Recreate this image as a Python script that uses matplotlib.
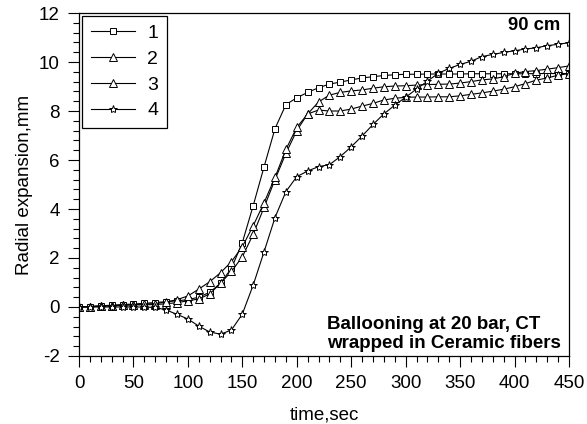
import matplotlib
matplotlib.use('Agg')
import matplotlib.pyplot as plt
from matplotlib.ticker import MultipleLocator

plt.rcParams['font.family'] = ['Liberation Sans', 'DejaVu Sans']
plt.rcParams['axes.unicode_minus'] = False

# time axis, sec
time = [0, 10, 20, 30, 40, 50, 60, 70, 80, 90,
        100, 110, 120, 130, 140, 150, 160, 170, 180, 190,
        200, 210, 220, 230, 240, 250, 260, 270, 280, 290,
        300, 310, 320, 330, 340, 350, 360, 370, 380, 390,
        400, 410, 420, 430, 440, 450]

# radial expansion, mm
s1 = [0.00, 0.02, 0.05, 0.07, 0.10, 0.12, 0.15, 0.18, 0.22, 0.25,
      0.30, 0.40, 0.60, 0.97, 1.58, 2.63, 4.14, 5.73, 7.28, 8.26,
      8.54, 8.76, 8.95, 9.10, 9.18, 9.27, 9.35, 9.40, 9.45, 9.48,
      9.50, 9.50, 9.51, 9.51, 9.51, 9.51, 9.52, 9.52, 9.52, 9.52,
      9.52, 9.52, 9.53, 9.53, 9.53, 9.53]
s2 = [0.00, 0.01, 0.03, 0.05, 0.07, 0.08, 0.09, 0.10, 0.13, 0.18,
      0.25, 0.33, 0.53, 0.97, 1.45, 2.05, 2.97, 4.07, 5.20, 6.27,
      7.20, 7.88, 8.37, 8.65, 8.76, 8.82, 8.86, 8.93, 8.99, 9.02,
      9.03, 9.06, 9.08, 9.09, 9.10, 9.14, 9.20, 9.27, 9.31, 9.40,
      9.54, 9.61, 9.65, 9.71, 9.77, 9.84]
s3 = [0.00, 0.02, 0.04, 0.06, 0.08, 0.10, 0.12, 0.14, 0.20, 0.30,
      0.45, 0.73, 1.03, 1.40, 1.85, 2.46, 3.32, 4.26, 5.29, 6.43,
      7.33, 7.88, 8.04, 8.00, 8.00, 8.08, 8.20, 8.31, 8.45, 8.52,
      8.56, 8.57, 8.57, 8.58, 8.58, 8.62, 8.68, 8.74, 8.81, 8.89,
      8.99, 9.12, 9.26, 9.35, 9.46, 9.53]
s4 = [0.00, 0.00, 0.00, 0.00, 0.00, 0.00, 0.00, -0.02, -0.12, -0.30,
      -0.49, -0.78, -1.02, -1.11, -0.94, -0.29, 0.90, 2.26, 3.65, 4.71,
      5.32, 5.55, 5.73, 5.81, 6.14, 6.54, 6.98, 7.45, 7.88, 8.24,
      8.56, 8.90, 9.22, 9.54, 9.74, 9.90, 10.03, 10.22, 10.31, 10.39,
      10.46, 10.53, 10.58, 10.67, 10.72, 10.79]

series = [('1', s1, 's', 5), ('2', s2, '^', 5.5), ('3', s3, '^', 5.5), ('4', s4, '*', 6)]

fig = plt.figure(figsize=(5.87, 4.24), dpi=100)
ax = fig.add_axes([0.1346, 0.1604, 0.8347, 0.8089])

for label, vals, mk, ms in series:
    ax.plot(time, vals, color='black', lw=0.8, marker=mk, markersize=ms,
            markerfacecolor='white', markeredgecolor='black', markeredgewidth=0.7,
            label=label)

ax.set_xlim(0, 450)
ax.set_ylim(-2, 12)
ax.xaxis.set_major_locator(MultipleLocator(50))
ax.xaxis.set_minor_locator(MultipleLocator(10))
ax.yaxis.set_major_locator(MultipleLocator(2))
ax.yaxis.set_minor_locator(MultipleLocator(0.4))
ax.tick_params(which='both', direction='out', top=False, right=False, labelsize=13.5, pad=6)
ax.tick_params(which='major', length=8, width=0.8)
ax.tick_params(which='minor', length=4.3, width=0.8)
for sp in ax.spines.values():
    sp.set_linewidth(0.9)

ax.set_xlabel('time,sec', fontsize=13.5, labelpad=10)
ax.set_ylabel('Radial expansion,mm', fontsize=13.5, labelpad=4)

leg = ax.legend(loc='upper left', bbox_to_anchor=(0.006, 0.992), borderaxespad=0,
                fontsize=14, frameon=True, fancybox=False, edgecolor='black',
                framealpha=1, handlelength=2.3, labelspacing=0.42, borderpad=0.45,
                handletextpad=0.6)
leg.get_frame().set_linewidth(0.9)

ax.text(0.9816, 0.965, '90 cm', transform=ax.transAxes, ha='right', va='center',
        fontsize=13.3, fontweight='bold')
ax.text(0.506, 0.064, 'Ballooning at 20 bar, CT\nwrapped in Ceramic fibers',
        transform=ax.transAxes, ha='left', va='center', fontsize=13.5,
        fontweight='bold', linespacing=1.1)

fig.savefig('out.png', dpi=100)
